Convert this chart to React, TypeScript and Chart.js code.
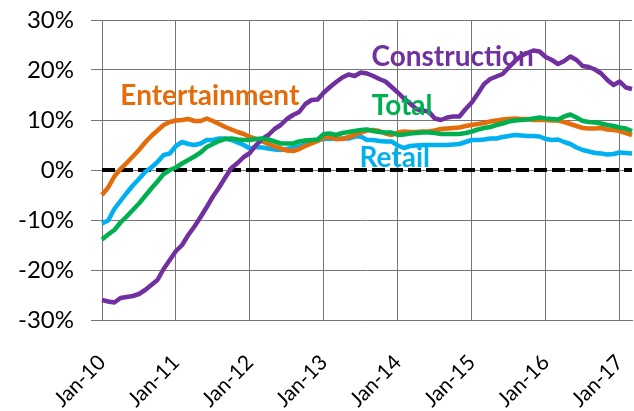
import React, { useEffect, useRef } from 'react';
import { Chart, registerables } from 'chart.js';

Chart.register(...registerables);

// ---- data -------------------------------------------------------------
const monthNames = ['Jan', 'Feb', 'Mar', 'Apr', 'May', 'Jun', 'Jul', 'Aug', 'Sep', 'Oct', 'Nov', 'Dec'];
const yearSuffixes = ['10', '11', '12', '13', '14', '15', '16', '17'];
const monthCount = 87; // Jan-10 .. Mar-17
const months: string[] = yearSuffixes
  .flatMap((y) => monthNames.map((m) => `${m}-${y}`))
  .slice(0, monthCount);

const construction = [
  -26.0, -26.3, -26.5, -25.6, -25.4, -25.2, -24.8, -24.0, -23.0, -22.0,
  -19.8, -18.0, -16.2, -15.0, -13.0, -11.3, -9.4, -7.4, -5.3, -3.5,
  -1.5, 0.4, 1.4, 2.6, 3.4, 5.0, 6.2, 7.0, 8.2, 9.0,
  10.2, 11.0, 11.6, 13.2, 14.0, 14.1, 15.5, 16.6, 17.6, 18.5,
  19.1, 18.8, 19.5, 19.3, 18.8, 18.2, 17.7, 16.6, 15.5, 14.3,
  13.3, 12.2, 11.9, 11.7, 10.3, 10.0, 10.5, 10.7, 10.7, 12.2,
  13.5, 15.3, 17.2, 18.2, 18.7, 19.2, 20.5, 21.8, 22.8, 23.4,
  23.9, 23.7, 22.6, 22.0, 21.2, 21.8, 22.7, 22.0, 20.8, 20.6,
  20.1, 19.3, 18.0, 17.0, 17.7, 16.5, 16.2,
];

const entertainment = [
  -5.0, -3.5, -1.3, 0.2, 1.4, 2.7, 4.0, 5.5, 6.8, 7.9,
  9.0, 9.6, 9.9, 10.0, 10.2, 9.8, 9.8, 10.3, 9.8, 9.2,
  8.6, 8.1, 7.6, 7.2, 6.6, 6.2, 5.7, 5.2, 4.7, 4.3,
  3.9, 3.8, 4.2, 4.8, 5.3, 5.8, 6.5, 6.6, 6.2, 6.2,
  6.6, 7.0, 7.5, 7.9, 8.0, 7.8, 7.3, 7.0, 7.5, 7.7,
  7.6, 7.6, 7.7, 7.7, 7.9, 8.2, 8.3, 8.4, 8.5, 8.8,
  9.0, 9.2, 9.4, 9.7, 9.9, 10.1, 10.2, 10.3, 10.2, 10.2,
  10.0, 10.0, 10.0, 9.9, 9.9, 9.6, 9.2, 8.8, 8.4, 8.3,
  8.3, 8.4, 8.1, 8.0, 7.8, 7.4, 7.0,
];

const total = [
  -13.9, -12.9, -12.0, -10.5, -9.3, -8.0, -6.7, -5.2, -3.7, -2.3,
  -0.8, 0.0, 0.5, 1.3, 2.0, 2.7, 3.5, 4.6, 5.2, 5.8,
  6.2, 6.3, 6.1, 6.0, 6.0, 6.2, 6.3, 6.1, 5.7, 5.3,
  5.3, 5.3, 5.7, 5.9, 6.0, 6.1, 7.2, 7.3, 7.0, 7.4,
  7.6, 7.8, 8.0, 8.1, 7.8, 7.6, 7.5, 7.5, 7.0, 7.1,
  7.3, 7.4, 7.5, 7.5, 7.4, 7.2, 7.2, 7.2, 7.2, 7.4,
  7.7, 8.1, 8.4, 8.6, 9.0, 9.3, 9.7, 9.9, 10.0, 10.1,
  10.3, 10.5, 10.3, 10.2, 10.1, 10.7, 11.1, 10.5, 9.8, 9.6,
  9.5, 9.3, 9.0, 8.8, 8.5, 8.3, 7.8,
];

const retail = [
  -10.7, -10.1, -7.8, -6.2, -4.6, -3.1, -1.8, -0.4, 0.5, 1.6,
  3.0, 3.3, 4.8, 5.6, 5.2, 5.0, 5.3, 6.0, 6.0, 6.3,
  6.3, 6.0, 5.5, 5.0, 4.3, 4.6, 4.5, 4.3, 4.1, 4.0,
  4.2, 4.5, 4.7, 5.2, 5.6, 6.0, 6.2, 6.3, 6.2, 6.3,
  6.3, 6.7, 6.7, 6.0, 6.0, 5.8, 5.7, 5.7, 4.9, 4.4,
  4.8, 4.9, 5.0, 5.0, 5.0, 5.0, 5.0, 5.1, 5.2, 5.6,
  6.0, 6.0, 6.1, 6.3, 6.3, 6.6, 6.8, 7.0, 6.9, 6.8,
  6.8, 6.7, 6.2, 6.0, 6.1, 5.6, 5.2, 4.5, 4.0, 3.7,
  3.4, 3.3, 3.1, 3.2, 3.5, 3.4, 3.3,
];

const zeroLine = months.map(() => 0);

const yMin = -30;
const yMax = 30;
const yStep = 10;

// ---- styles ------------------------------------------------------------
const FONT = 'Lato, Carlito, Calibri, "Noto Sans", sans-serif';
const GRID = '#767676';
const COLORS = {
  construction: '#7030A0',
  entertainment: '#E46C0A',
  total: '#00B050',
  retail: '#00B0F0',
};

// series name labels placed in data coordinates (month index, percent)
const seriesLabels = [
  { text: 'Construction', color: COLORS.construction, at: [56.9, 22.6] },
  { text: 'Entertainment', color: COLORS.entertainment, at: [17.5, 14.8] },
  { text: 'Total', color: COLORS.total, at: [48.7, 12.8] },
  { text: 'Retail', color: COLORS.retail, at: [47.5, 2.4] },
];

const labelPlugin = {
  id: 'seriesLabels',
  afterDatasetsDraw(chart: any) {
    const { ctx, scales } = chart;
    ctx.save();
    ctx.font = `bold 28px ${FONT}`;
    ctx.textAlign = 'center';
    ctx.textBaseline = 'middle';
    seriesLabels.forEach((l) => {
      const x = scales.x.getPixelForValue(l.at[0]);
      const y = scales.y.getPixelForValue(l.at[1]);
      ctx.fillStyle = l.color;
      ctx.fillText(l.text, x, y);
    });
    ctx.restore();
  },
};

export default function App() {
  const canvasRef = useRef<HTMLCanvasElement | null>(null);

  useEffect(() => {
    if (!canvasRef.current) return;
    const line = (data: number[], color: string) => ({
      data,
      borderColor: color,
      backgroundColor: color,
      borderWidth: 4.5,
      pointRadius: 0,
      tension: 0,
      fill: false,
      borderJoinStyle: 'round',
    });
    const chart = new Chart(canvasRef.current, {
      type: 'line',
      data: {
        labels: months,
        datasets: [
          { label: 'Total', ...line(total, COLORS.total) },
          { label: 'Construction', ...line(construction, COLORS.construction) },
          { label: 'Entertainment', ...line(entertainment, COLORS.entertainment) },
          { label: 'Retail', ...line(retail, COLORS.retail) },
          {
            label: 'Zero',
            ...line(zeroLine, '#000000'),
            borderDash: [13, 5],
            borderWidth: 4,
            borderCapStyle: 'butt',
          },
        ],
      },
      options: {
        responsive: true,
        maintainAspectRatio: false,
        animation: false,
        layout: { padding: { top: 20, right: 2, left: 0, bottom: 0 } },
        plugins: {
          legend: { display: false },
          tooltip: { enabled: false },
        },
        scales: {
          x: {
            type: 'category',
            offset: false,
            grid: {
              color: (c: any) => (c.index % 12 === 0 ? GRID : 'rgba(0,0,0,0)'),
              lineWidth: 1,
              drawTicks: false,
            },
            border: { color: GRID, width: 1 },
            ticks: {
              autoSkip: false,
              maxRotation: 45,
              minRotation: 45,
              padding: 30,
              color: '#000',
              font: { family: FONT, size: 21 },
              callback: (_v: any, i: number) => (i % 12 === 0 ? months[i] : ''),
            },
            afterFit: (s: any) => {
              s.height = 91;
              s.paddingLeft = 0;
              s.paddingRight = 0;
            },
          },
          y: {
            min: yMin,
            max: yMax,
            grid: { color: GRID, lineWidth: 1, tickLength: 11 },
            border: { color: GRID, width: 1 },
            ticks: {
              stepSize: yStep,
              padding: 17,
              color: '#000',
              font: { family: FONT, size: 24 },
              callback: (v: any) => `${v}%`,
            },
            afterFit: (s: any) => {
              s.width = 102;
              s.paddingTop = 0;
              s.paddingBottom = 0;
            },
          },
        },
      },
      plugins: [labelPlugin],
    } as any);
    return () => chart.destroy();
  }, []);

  return (
    <div style={{ position: 'fixed', left: 0, top: 0, width: 634, height: 411, background: '#fff' }}>
      <canvas ref={canvasRef} />
    </div>
  );
}
